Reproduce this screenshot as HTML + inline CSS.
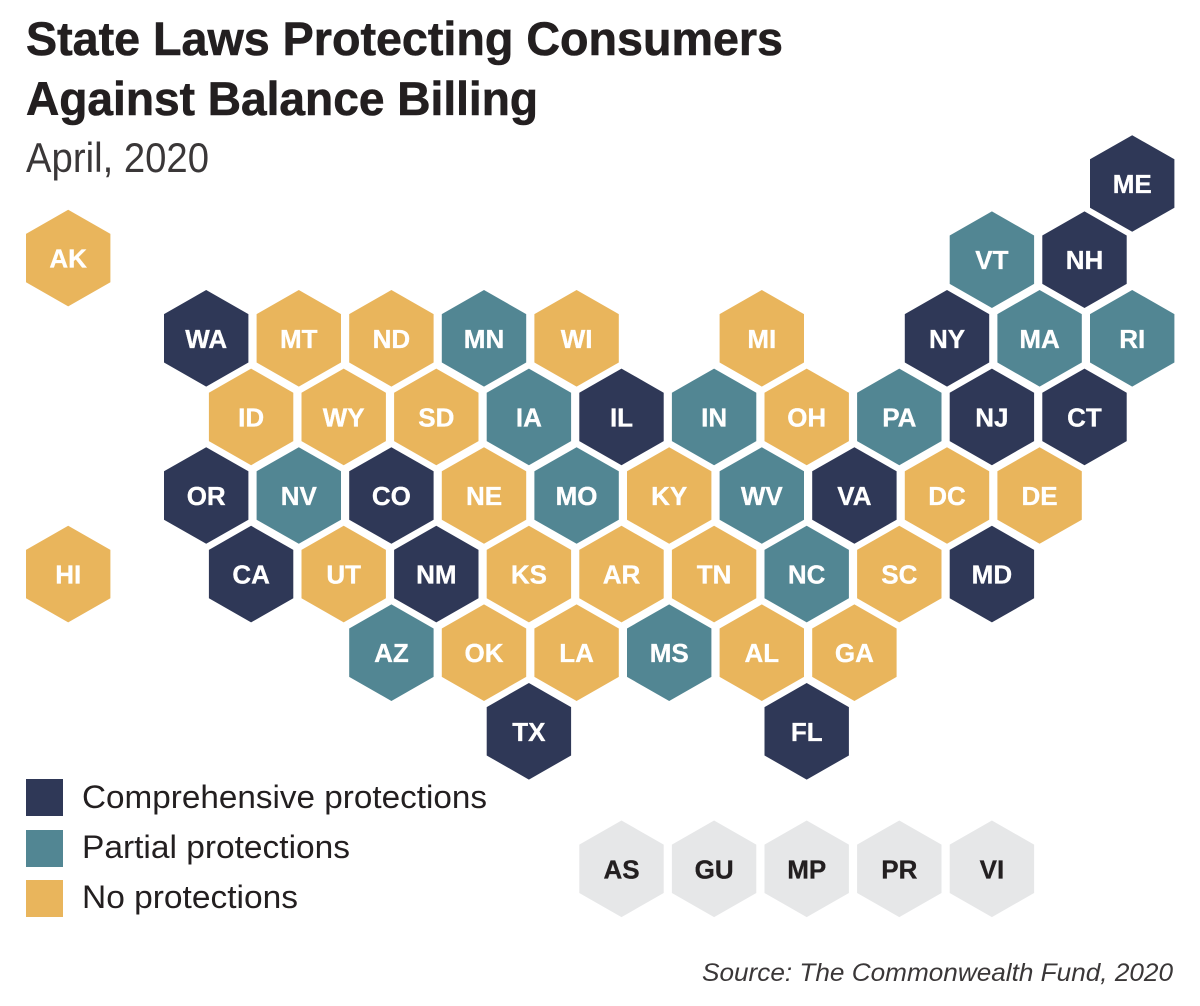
<!DOCTYPE html>
<html lang="en">
<head>
<meta charset="utf-8">
<title>State Laws Protecting Consumers Against Balance Billing</title>
<style>
  html, body { margin: 0; padding: 0; background: #ffffff; }
  svg { display: block; font-family: "Liberation Sans", sans-serif; }
</style>
</head>
<body>
<svg id="chart" xmlns="http://www.w3.org/2000/svg" width="1200" height="1006" viewBox="0 0 1200 1006">
  <rect x="0" y="0" width="1200" height="1006" fill="#ffffff"/>
  <text x="26" y="55" font-size="47" font-weight="700" fill="#231f20" stroke="#231f20" stroke-width="0.6" textLength="757" lengthAdjust="spacingAndGlyphs">State Laws Protecting Consumers</text>
  <text x="26" y="115" font-size="47" font-weight="700" fill="#231f20" stroke="#231f20" stroke-width="0.6" textLength="512" lengthAdjust="spacingAndGlyphs">Against Balance Billing</text>
  <text x="26" y="172" font-size="42" font-weight="400" fill="#3a3738" textLength="183" lengthAdjust="spacingAndGlyphs">April, 2020</text>
  <g id="tiles"></g>
  <g>
    <g>
      <rect x="26" y="779" width="37" height="37" fill="#2f3857"/>
      <text x="82" y="808" font-size="32" fill="#231f20" textLength="405" lengthAdjust="spacingAndGlyphs">Comprehensive protections</text>
    </g>
    <g>
      <rect x="26" y="830" width="37" height="37" fill="#528693"/>
      <text x="82" y="858" font-size="32" fill="#231f20" textLength="268" lengthAdjust="spacingAndGlyphs">Partial protections</text>
    </g>
    <g>
      <rect x="26" y="880" width="37" height="37" fill="#e9b55c"/>
      <text x="82" y="908" font-size="32" fill="#231f20" textLength="216" lengthAdjust="spacingAndGlyphs">No protections</text>
    </g>
  </g>
  <text x="702" y="981" font-size="25" font-style="italic" fill="#3a3738" textLength="471" lengthAdjust="spacingAndGlyphs">Source: The Commonwealth Fund, 2020</text>
</svg>
<script>
// Tile categories: state code, protection level, and grid cell (half-column, row)
const stateCodes = ["ME","AK","VT","NH","WA","MT","ND","MN","WI","MI","NY","MA","RI","ID","WY","SD","IA","IL","IN","OH","PA","NJ","CT","OR","NV","CO","NE","MO","KY","WV","VA","DC","DE","HI","CA","UT","NM","KS","AR","TN","NC","SC","MD","AZ","OK","LA","MS","AL","GA","TX","FL","AS","GU","MP","PR","VI"];
const protectionLevels = ["full","none","partial","full","full","none","none","partial","none","none","full","partial","partial","none","none","none","partial","full","partial","none","partial","full","full","full","partial","full","none","partial","none","partial","full","none","none","none","full","none","full","none","none","none","partial","none","full","partial","none","none","partial","none","none","full","full","territory","territory","territory","territory","territory"];
const gridColumns = [20,-2.98,17,19,0,2,4,6,8,12,16,18,20,1,3,5,7,9,11,13,15,17,19,0,2,4,6,8,10,12,14,16,18,-2.98,1,3,5,7,9,11,13,15,17,4,6,8,10,12,14,7,13,9,11,13,15,17];
const gridRows = [-1.97,-1.02,-1,-1,0,0,0,0,0,0,0,0,0,1,1,1,1,1,1,1,1,1,1,2,2,2,2,2,2,2,2,2,2,3,3,3,3,3,3,3,3,3,3,4,4,4,4,4,4,5,5,6.75,6.75,6.75,6.75,6.75];

const levelFill = { full: "#2f3857", partial: "#528693", none: "#e9b55c", territory: "#e6e7e8" };
const levelInk = { full: "#ffffff", partial: "#ffffff", none: "#ffffff", territory: "#231f20" };

// Odd half-columns sit about 1.4px left of the even-column lattice in the source
function xScale(col) { return 206.2 + col * 46.3 - (Math.abs(col) % 2 === 1 ? 1.4 : 0); }
function yScale(row) { return 338.3 + row * 78.6; }

const SVG_NS = "http://www.w3.org/2000/svg";
const tiles = document.getElementById("tiles");

function hexPoints(cx, cy) {
  const w = 42.2, h = 48.3, s = 24.2;
  return [[cx, cy - h], [cx + w, cy - s], [cx + w, cy + s], [cx, cy + h], [cx - w, cy + s], [cx - w, cy - s]]
    .map(function (p) { return p[0].toFixed(1) + "," + p[1].toFixed(1); }).join(" ");
}

stateCodes.forEach(function (code, i) {
  const level = protectionLevels[i];
  const cx = xScale(gridColumns[i]);
  const cy = yScale(gridRows[i]);
  const key = code.toLowerCase();

  const group = document.createElementNS(SVG_NS, "g");
  
  

  const hex = document.createElementNS(SVG_NS, "polygon");
  hex.setAttribute("points", hexPoints(cx, cy));
  hex.setAttribute("fill", levelFill[level]);
  
  
  group.appendChild(hex);

  const label = document.createElementNS(SVG_NS, "text");
  label.setAttribute("x", cx.toFixed(1));
  label.setAttribute("y", (cy + 9.5).toFixed(1));
  label.setAttribute("text-anchor", "middle");
  label.setAttribute("font-size", "26");
  label.setAttribute("font-weight", "700");
  label.setAttribute("fill", levelInk[level]);
  label.setAttribute("stroke", levelInk[level]);
  label.setAttribute("stroke-width", "0.3");
  
  
  label.textContent = code;
  group.appendChild(label);

  tiles.appendChild(group);
});
</script>
</body>
</html>
